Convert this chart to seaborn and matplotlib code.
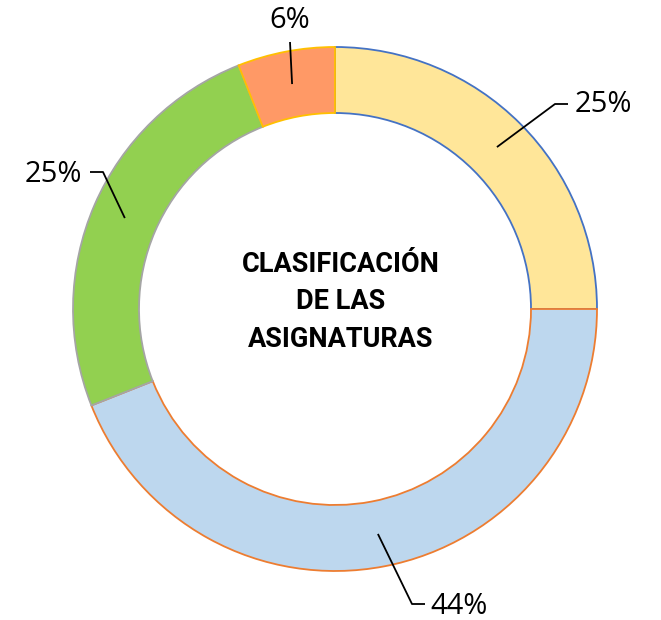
import numpy as np
import matplotlib
matplotlib.use("Agg")
import matplotlib.pyplot as plt
import seaborn as sns

# ---- data ----
categories = ["A", "B", "C", "D"]
values = [25, 44, 25, 6]
labels = ["25%", "44%", "25%", "6%"]
center_title = "CLASIFICACIÓN\nDE LAS\nASIGNATURAS"

# ---- style ----
sns.set_theme(style="white")
plt.rcParams["font.family"] = ["Open Sans", "DejaVu Sans"]
fill_colors = ["#FFE699", "#BDD7EE", "#92D050", "#FF9966"]
edge_colors = ["#4472C4", "#ED7D31", "#A5A5A5", "#FFC000"]

W, H = 661, 620
CX, CY, R = 335, 309, 262
RIN = 196

fig = plt.figure(figsize=(W / 100, H / 100), dpi=100)
ax = fig.add_axes([0, 0, 1, 1])


def px(x, y):
    return ((x - CX) / R, (CY - y) / R)


wedges, _ = ax.pie(values, colors=fill_colors, startangle=90, counterclock=False,
                   radius=1, center=(0, 0),
                   wedgeprops=dict(width=(R - RIN) / R, linewidth=1.3))
for w, ec in zip(wedges, edge_colors):
    w.set_edgecolor(ec)
ax.set_aspect("auto")
ax.set_xlim(-CX / R, (W - CX) / R)
ax.set_ylim(-(H - CY) / R, CY / R)
ax.set_axis_off()

# label layout (pixel positions): text centre, elbow point, end point
text_pos = [(603, 105), (459, 606), (53, 175), (290, 21)]
elbow_pos = [(555, 104), (412, 604), (103, 172), None]
end_pos = [(568, 104), (425, 604), (90, 172), (290, 42)]

rmid = (R + RIN) / 2 / R
for w, lab, tp, ep, en in zip(wedges, labels, text_pos, elbow_pos, end_pos):
    ang = np.deg2rad((w.theta1 + w.theta2) / 2)
    sx, sy = rmid * np.cos(ang), rmid * np.sin(ang)
    pts = [(sx, sy)]
    if ep is not None:
        pts.append(px(*ep))
    pts.append(px(*en))
    xs, ys = zip(*pts)
    ax.plot(xs, ys, color="black", lw=1.3, solid_capstyle="butt")
    tx, ty = px(*tp)
    ax.text(tx, ty, lab, ha="center", va="center", fontsize=21, color="black")

cx, cy = px(341, 302)
ax.text(cx, cy, center_title, ha="center", va="center", fontsize=19.5,
        fontweight="bold", family=["Roboto", "DejaVu Sans"], linespacing=1.5,
        color="black")

fig.savefig("out.png", dpi=100, facecolor="white")
